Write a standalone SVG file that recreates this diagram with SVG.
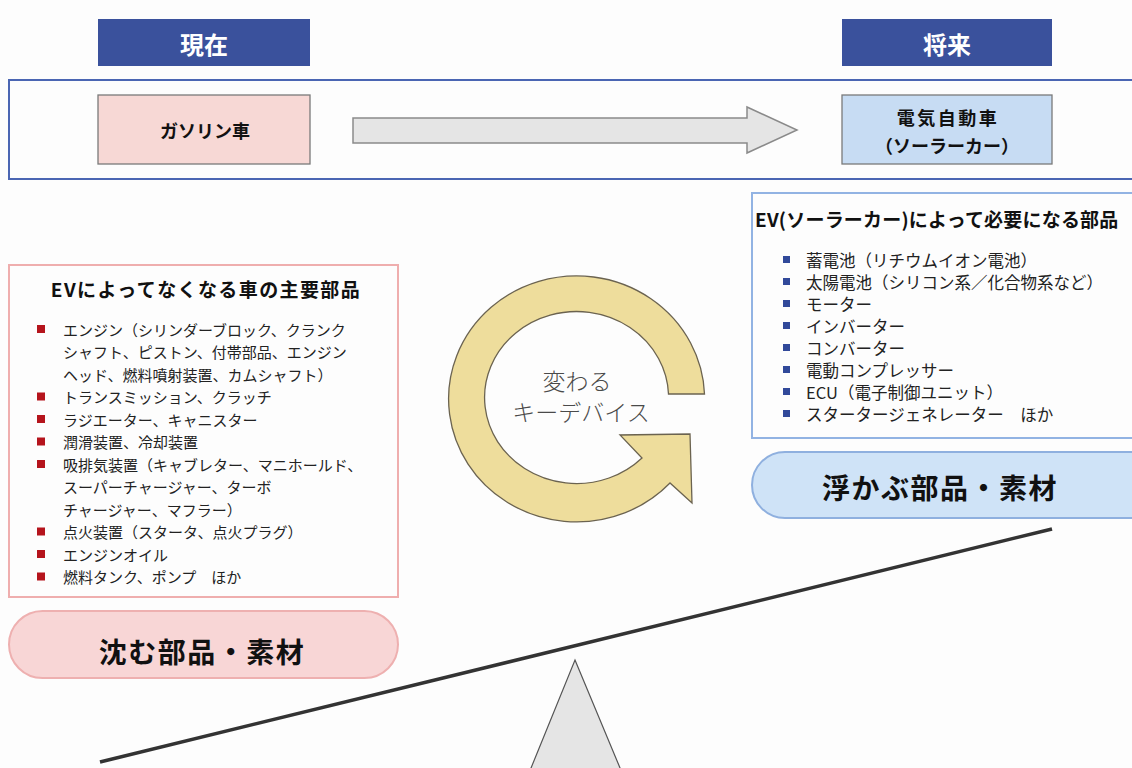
<svg xmlns="http://www.w3.org/2000/svg" width="1132" height="768" viewBox="0 0 1132 768">
<style>
.jp{font-family:"Noto Sans CJK JP","Noto Sans",sans-serif;}
.hdr{fill:#3a519c;}
.hdrt{fill:#ffffff;font-size:24px;font-weight:bold;}
.car{stroke:#7a7a7a;stroke-width:1.3;}
.cart{fill:#111;font-size:18px;font-weight:bold;}
.ttl{fill:#111;font-size:19px;font-weight:bold;letter-spacing:1.4px;}
.li{fill:#222;font-size:15px;}
.ri{fill:#222;font-size:16.5px;}
.rb{fill:#b5141c;}
.bb{fill:#31499a;}
.pill{font-size:28px;font-weight:bold;fill:#111;letter-spacing:1.5px;}
</style>
<rect x="0" y="0" width="1132" height="768" fill="#fdfdfd"/>

<g id="header-now">
<rect class="hdr" x="98" y="19" width="212" height="47"/>
<text class="jp hdrt" x="204" y="43" text-anchor="middle" dominant-baseline="central">現在</text>
</g>
<g id="header-future">
<rect class="hdr" x="842" y="19" width="210" height="47"/>
<text class="jp hdrt" x="947" y="43" text-anchor="middle" dominant-baseline="central">将来</text>
</g>

<g id="band">
<rect x="9" y="80" width="1140" height="99" fill="#fdfdfd" stroke="#4a66b3" stroke-width="2"/>
</g>

<g id="gasoline">
<rect class="car" x="98" y="95" width="212" height="69" fill="#f7d8d5"/>
<text class="jp cart" x="205" y="130" text-anchor="middle" dominant-baseline="central">ガソリン車</text>
</g>

<g id="ev">
<rect class="car" x="842" y="95" width="210" height="69" fill="#c7dcf3"/>
<text class="jp cart" x="948" y="117" text-anchor="middle" dominant-baseline="central" style="letter-spacing:2.5px">電気自動車</text>
<text class="jp cart" x="947" y="145" text-anchor="middle" dominant-baseline="central">（ソーラーカー）</text>
</g>

<g id="connectors">
<polygon points="353,118 747,118 747,107 797,130 747,153 747,143 353,143" fill="#e5e5e5" stroke="#8a8a8a" stroke-width="1.5"/>
</g>

<g id="lost-parts">
<rect x="9" y="265" width="389" height="332" fill="#fdfdfd" stroke="#efaeae" stroke-width="2"/>
<text class="jp ttl" x="206" y="288" text-anchor="middle" dominant-baseline="central">EVによってなくなる車の主要部品</text>
<g class="rb">
<rect x="37" y="325" width="8" height="8"/>
<rect x="37" y="392.5" width="8" height="8"/>
<rect x="37" y="415" width="8" height="8"/>
<rect x="37" y="437.5" width="8" height="8"/>
<rect x="37" y="460" width="8" height="8"/>
<rect x="37" y="527.5" width="8" height="8"/>
<rect x="37" y="550" width="8" height="8"/>
<rect x="37" y="572.5" width="8" height="8"/>
</g>
<g class="jp li" dominant-baseline="central">
<text x="63" y="329">エンジン（シリンダーブロック、クランク</text>
<text x="63" y="351.5">シャフト、ピストン、付帯部品、エンジン</text>
<text x="63" y="374">ヘッド、燃料噴射装置、カムシャフト）</text>
<text x="63" y="396.5">トランスミッション、クラッチ</text>
<text x="63" y="419">ラジエーター、キャニスター</text>
<text x="63" y="441.5">潤滑装置、冷却装置</text>
<text x="63" y="464">吸排気装置（キャブレター、マニホールド、</text>
<text x="63" y="486.5">スーパーチャージャー、ターボ</text>
<text x="63" y="509">チャージャー、マフラー）</text>
<text x="63" y="531.5">点火装置（スタータ、点火プラグ）</text>
<text x="63" y="554">エンジンオイル</text>
<text x="63" y="576.5">燃料タンク、ポンプ　ほか</text>
</g>
</g>

<g id="sinking">
<rect x="9" y="611" width="389" height="67" rx="33.5" fill="#f8d6d6" stroke="#eeb0b0" stroke-width="2"/>
<text class="jp pill" x="202" y="651" text-anchor="middle" dominant-baseline="central">沈む部品・素材</text>
</g>

<g id="new-parts">
<rect x="752" y="193" width="400" height="245" fill="#fdfdfd" stroke="#92b3e3" stroke-width="2"/>
<text class="jp ttl" x="755" y="218" dominant-baseline="central" style="letter-spacing:0.2px">EV(ソーラーカー)によって必要になる部品</text>
<g class="bb">
<rect x="783" y="256" width="7" height="7"/>
<rect x="783" y="278" width="7" height="7"/>
<rect x="783" y="300" width="7" height="7"/>
<rect x="783" y="322" width="7" height="7"/>
<rect x="783" y="344" width="7" height="7"/>
<rect x="783" y="366" width="7" height="7"/>
<rect x="783" y="388" width="7" height="7"/>
<rect x="783" y="410" width="7" height="7"/>
</g>
<g class="jp ri" dominant-baseline="central">
<text x="806" y="259.5">蓄電池（リチウムイオン電池）</text>
<text x="806" y="281.5">太陽電池（シリコン系／化合物系など）</text>
<text x="806" y="303.5">モーター</text>
<text x="806" y="325.5">インバーター</text>
<text x="806" y="347.5">コンバーター</text>
<text x="806" y="369.5">電動コンプレッサー</text>
<text x="806" y="391.5">ECU（電子制御ユニット）</text>
<text x="806" y="413.5">スタータージェネレーター　ほか</text>
</g>
</g>

<g id="floating">
<rect x="752" y="452" width="420" height="66" rx="33" fill="#cfe3f7" stroke="#8fb0df" stroke-width="2"/>
<text class="jp pill" x="940" y="487" text-anchor="middle" dominant-baseline="central">浮かぶ部品・素材</text>
</g>

<g id="key-devices">
<path d="M704.5,394 A128,123 0 1 0 670,483 L692,503 L690,434 L620,435 L642,458 A92,86 0 1 1 668.5,394 Z" fill="#eedd9c" stroke="#6b6350" stroke-width="1.3" stroke-linejoin="miter"/>
<text class="jp" x="577" y="380" text-anchor="middle" dominant-baseline="central" font-size="23" fill="#4a4a4a" font-weight="300">変わる</text>
<text class="jp" x="581" y="411" text-anchor="middle" dominant-baseline="central" font-size="23" fill="#4a4a4a" font-weight="300">キーデバイス</text>
</g>

<g id="seesaw">
<line x1="100" y1="762" x2="1052" y2="529" stroke="#333" stroke-width="3.5"/>
<polygon points="575,660 621.7,772 529.4,772" fill="#e5e5e5" stroke="#555" stroke-width="1.2"/>
</g>
</svg>
